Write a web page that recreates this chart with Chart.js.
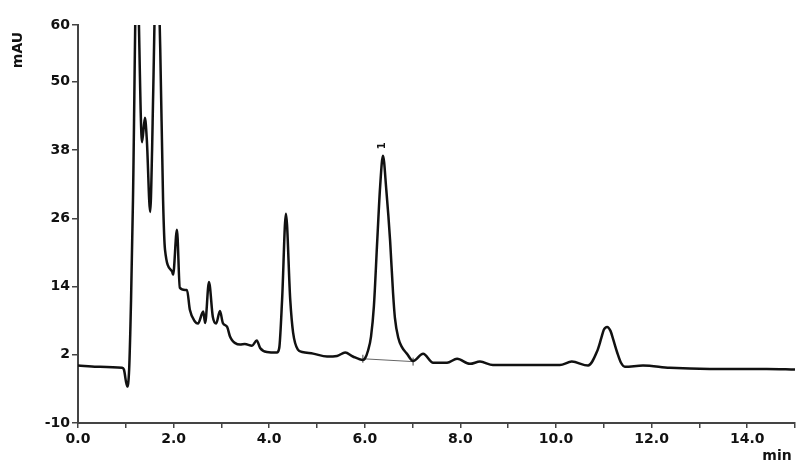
<!DOCTYPE html>
<html>
<head>
<meta charset="utf-8">
<title>Chromatogram</title>
<script src="https://cdn.jsdelivr.net/npm/chart.js@4/dist/chart.umd.min.js"></script>
<style>
  html, body { margin: 0; padding: 0; background: #fff; }
  #chart { display: block; }
</style>
</head>
<body>
<canvas id="chart" width="800" height="468"></canvas>
<script>
// retention time (min) and signal (mAU)
const times = [
  0.00, 0.40, 0.92, 0.96, 1.03, 1.07, 1.11, 1.15, 1.23, 1.34, 1.40, 1.44, 1.51, 1.55, 1.57, 1.65,
  1.72, 1.78, 1.82, 1.97, 1.99, 2.07, 2.13, 2.24, 2.28, 2.34, 2.45, 2.51, 2.62, 2.66, 2.74, 2.82,
  2.89, 2.97, 3.03, 3.12, 3.18, 3.22, 3.28, 3.39, 3.49, 3.64, 3.74, 3.81, 3.95, 4.16, 4.21, 4.27,
  4.35, 4.44, 4.50, 4.60, 4.69, 4.92, 5.21, 5.42, 5.59, 5.75, 5.96, 6.00, 6.07, 6.13, 6.19, 6.26,
  6.32, 6.38, 6.45, 6.53, 6.59, 6.63, 6.70, 6.78, 6.88, 7.01, 7.22, 7.43, 7.72, 7.93, 8.20, 8.41,
  8.68, 10.08, 10.33, 10.67, 10.86, 10.95, 11.00, 11.07, 11.14, 11.20, 11.28, 11.36, 11.44, 11.82, 12.38, 13.22,
  14.41, 15.00
];
const signal = [
  0.1, -0.1, -0.3, -0.6, -3.6, -0.6, 11.7, 29.2, 72.0, 39.4, 43.7, 39.8, 27.1, 38.0, 46.8, 75.0,
  56.0, 29.2, 20.5, 16.6, 16.1, 24.0, 13.8, 13.4, 13.4, 9.9, 7.8, 7.5, 9.6, 7.6, 14.8, 8.7,
  7.5, 9.7, 7.6, 6.9, 5.2, 4.6, 4.1, 3.8, 3.9, 3.6, 4.5, 3.2, 2.5, 2.4, 3.2, 11.7,
  26.8, 11.7, 5.9, 2.9, 2.5, 2.2, 1.7, 1.8, 2.4, 1.7, 1.1, 1.3, 2.8, 5.2, 10.5, 22.0,
  31.5, 37.0, 31.0, 22.0, 13.0, 8.5, 5.0, 3.3, 2.2, 0.9, 2.2, 0.6, 0.6, 1.3, 0.4, 0.8,
  0.2, 0.2, 0.8, 0.1, 2.6, 5.0, 6.4, 6.9, 6.2, 4.6, 2.4, 0.6, -0.1, 0.1, -0.3, -0.5,
  -0.5, -0.6
];

// integration baseline under peak 1
const baseTimes = [5.96, 7.01];
const baseSignal = [1.3, 0.8];

// peak label
const peakName = '1';
const peakTime = 6.38;
const peakHeight = 37.0;

const yTicks = [-10, 2, 14, 26, 38, 50, 60];
const xMin = 0, xMax = 15;

const FONT = { family: 'DejaVu Sans', size: 14, weight: 'bold' };
const INK = '#111';
const AXIS = '#444';

const labelsPlugin = {
  id: 'labels',
  afterDraw(chart) {
    const ctx = chart.ctx;
    const { x, y } = chart.scales;
    ctx.save();
    ctx.fillStyle = INK;
    ctx.font = 'bold 14px "DejaVu Sans"';
    ctx.textAlign = 'center';
    ctx.textBaseline = 'middle';
    // y axis unit
    ctx.save();
    ctx.translate(18, 50);
    ctx.rotate(-Math.PI / 2);
    ctx.fillText('mAU', 0, 0);
    ctx.restore();
    // x axis unit
    ctx.fillText('min', 777, 456);
    // peak number
    ctx.font = 'bold 10px "DejaVu Sans"';
    ctx.save();
    ctx.translate(x.getPixelForValue(peakTime) - 1, y.getPixelForValue(peakHeight) - 10);
    ctx.rotate(-Math.PI / 2);
    ctx.fillText(peakName, 0, 0);
    ctx.restore();
    ctx.restore();
  }
};

new Chart(document.getElementById('chart'), {
  type: 'line',
  data: {
    datasets: [
      {
        label: 'signal',
        data: times.map((t, i) => ({ x: t, y: signal[i] })),
        borderColor: INK,
        borderWidth: 2.5,
        pointRadius: 0,
        cubicInterpolationMode: 'monotone',
        fill: false
      },
      {
        label: 'baseline',
        data: baseTimes.map((t, i) => ({ x: t, y: baseSignal[i] })),
        borderColor: '#666',
        borderWidth: 1,
        pointStyle: 'line',
        rotation: 90,
        pointRadius: 4,
        pointBorderColor: '#444',
        pointBorderWidth: 1,
        fill: false
      }
    ]
  },
  options: {
    responsive: false,
    animation: false,
    layout: { padding: { top: 25, right: 5, left: 0, bottom: 0 } },
    plugins: {
      legend: { display: false },
      tooltip: { enabled: false }
    },
    scales: {
      x: {
        type: 'linear',
        min: xMin,
        max: xMax,
        afterFit: s => { s.height = 45; },
        border: { color: AXIS, width: 2 },
        grid: { drawOnChartArea: false, color: AXIS, tickLength: 5, lineWidth: 1.5 },
        ticks: {
          stepSize: 1,
          autoSkip: false,
          maxRotation: 0,
          padding: 3,
          color: INK,
          font: FONT,
          callback: v => (v % 2 === 0 && v < 15) ? v.toFixed(1) : ''
        }
      },
      y: {
        min: -10,
        max: 60,
        afterFit: s => { s.width = 78; },
        afterBuildTicks: s => { s.ticks = yTicks.map(v => ({ value: v })); },
        border: { color: AXIS, width: 2 },
        grid: { drawOnChartArea: false, color: AXIS, tickLength: 6, lineWidth: 1.5 },
        ticks: { padding: 2, color: INK, font: FONT }
      }
    }
  },
  plugins: [labelsPlugin]
});
</script>
</body>
</html>
